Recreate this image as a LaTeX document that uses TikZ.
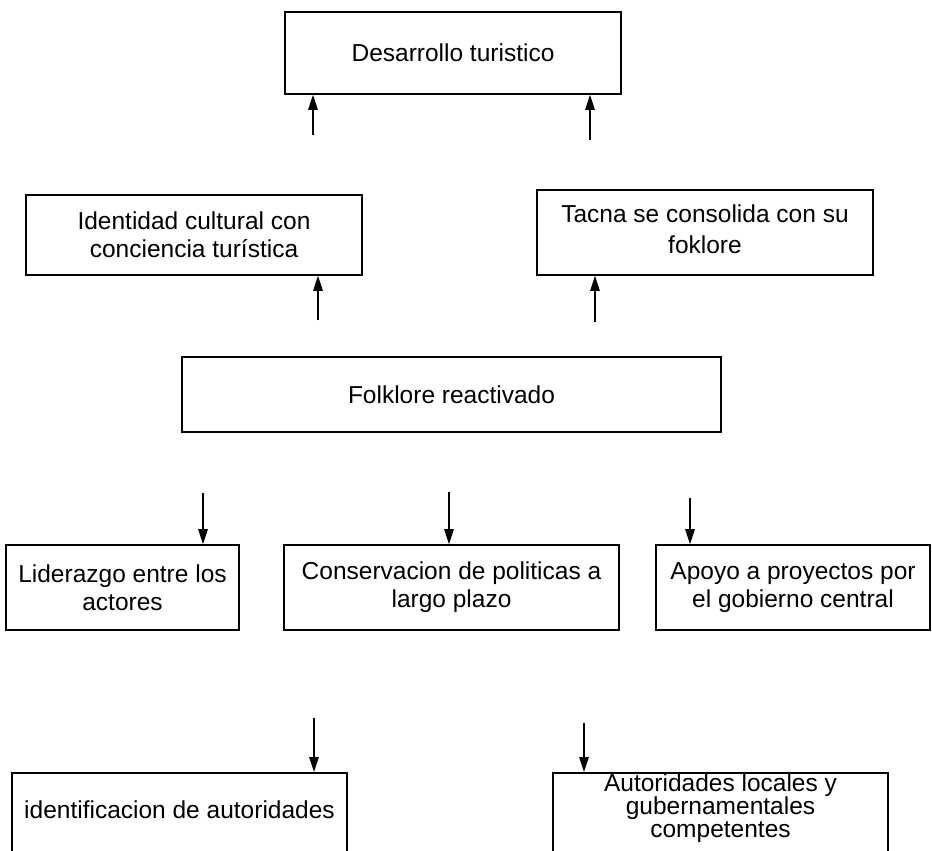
\documentclass[tikz,border=0pt]{standalone}
\usepackage{fontspec}
\setmainfont{Liberation Sans}
\usetikzlibrary{arrows.meta}
\begin{document}
\begin{tikzpicture}[x=1pt,y=-1pt,
  box/.style={draw, line width=1.6pt, rectangle, align=center, inner sep=0pt,
    font=\fontsize{24.5}{28}\selectfont},
  txt/.style={align=center, inner sep=0pt, font=\fontsize{24.5}{23}\selectfont},
  arr/.style={line width=1.2pt, -{Triangle[length=15pt,width=9.5pt]}}]
\useasboundingbox (0,0) rectangle (932,851);
\clip (0,0) rectangle (932,851);
% boxes
\node[box, minimum width=336pt, minimum height=82pt] (des) at (453,53) {Desarrollo turistico};
\node[box, minimum width=336pt, minimum height=80pt] (ide) at (194,235) {Identidad cultural con\\conciencia turística};
\node[box, minimum width=336pt, minimum height=85pt] (tac) at (705,232.5) {\raisebox{4pt}{\begin{tabular}{@{}c@{}}Tacna se consolida con su\\[3pt]foklore\end{tabular}}};
\node[box, minimum width=539pt, minimum height=75pt] (fol) at (451.5,394.5) {Folklore reactivado};
\node[box, minimum width=233pt, minimum height=85pt] (lid) at (122.5,587.5) {Liderazgo entre los\\actores};
\node[box, minimum width=335pt, minimum height=85pt] (con) at (451.5,587.5) {Conservacion de politicas a\\largo plazo};
\node[box, minimum width=274pt, minimum height=85pt] (apo) at (793,587.5) {Apoyo a proyectos por\\el gobierno central};
\node[box, minimum width=335pt, minimum height=95pt, anchor=north] (idn) at (179.5,772) {};
\node[txt] (idnt) at (179.5,810) {identificacion de autoridades};
\node[box, minimum width=335pt, minimum height=95pt, anchor=north] (aut) at (720.5,772) {};
\node[txt] (autt) at (720.5,808) {Autoridades locales y\\gubernamentales\\competentes};
% free ends of connectors
\coordinate (s1) at (313,135);
\coordinate (s2) at (590,140);
\coordinate (s3) at (318,320);
\coordinate (s4) at (595,322);
\coordinate (s5) at (203,493);
\coordinate (s6) at (449,492);
\coordinate (s7) at (690,498);
\coordinate (s8) at (314,718);
\coordinate (s9) at (584,723);
% connectors
\draw[arr] (s1) -- (s1 |- des.south);
\draw[arr] (s2) -- (s2 |- des.south);
\draw[arr] (s3) -- (s3 |- ide.south);
\draw[arr] (s4) -- (s4 |- tac.south);
\draw[arr] (s5) -- (s5 |- lid.north);
\draw[arr] (s6) -- (s6 |- con.north);
\draw[arr] (s7) -- (s7 |- apo.north);
\draw[arr] (s8) -- (s8 |- idn.north);
\draw[arr] (s9) -- (s9 |- aut.north);
\end{tikzpicture}
\end{document}
